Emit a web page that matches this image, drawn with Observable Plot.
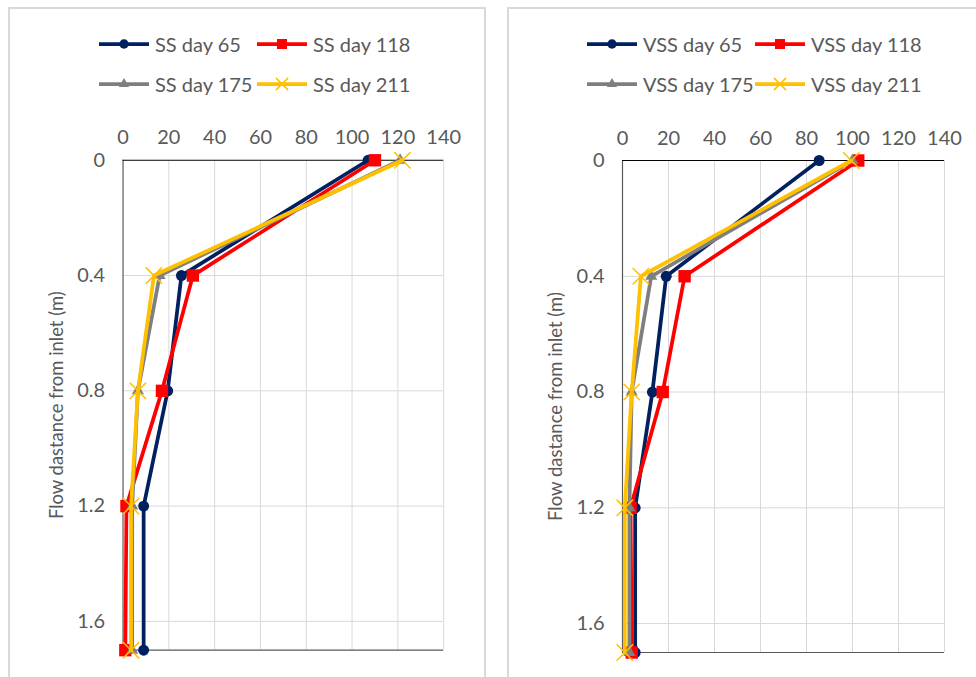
<!DOCTYPE html>
<html>
<head>
<meta charset="utf-8">
<script src="https://cdn.jsdelivr.net/npm/d3@7"></script>
<script src="https://cdn.jsdelivr.net/npm/@observablehq/plot@0.6"></script>
<style>
  html, body { margin: 0; padding: 0; background: #fff; width: 976px; height: 677px; overflow: hidden; }
  body { position: relative; font-family: Lato, "Open Sans", sans-serif; color: #595959; }
  .panel { position: absolute; top: 7px; width: 478px; height: 720px; border: 2px solid #d9d9d9; box-sizing: border-box; background: #fff; }
  .legend { position: absolute; display: grid; row-gap: 14px; font-size: 20px; color: #595959; }
  .item { display: flex; align-items: center; white-space: nowrap; height: 26px; }
  .item svg { margin-right: 6px; flex: none; }
  .chart { position: absolute; }
</style>
</head>
<body>
<div class="panel" id="p1" style="left:8px;"></div>
<div class="panel" id="p2" style="left:507px; width:500px;"></div>
<script>
// ---- data ----
const distances = [0, 0.4, 0.8, 1.2, 1.7];
const days = ["65", "118", "175", "211"];
const ss65  = [107, 25.5, 19.5, 9, 9];
const ss118 = [110, 30.5, 17, 1.5, 1];
const ss175 = [121, 16, 6.5, 4, 4];
const ss211 = [122, 13.5, 6.5, 3.5, 3.5];
const vss65  = [85.5, 19, 13, 5.5, 5.5];
const vss118 = [102.5, 27, 17.5, 3.5, 4];
const vss175 = [100, 12.5, 4, 3, 3];
const vss211 = [99.5, 8, 4, 1, 1];
const xTicks = [0, 20, 40, 60, 80, 100, 120, 140];
const yTicks = [0, 0.4, 0.8, 1.2, 1.6];
const yLabel = "Flow dastance from inlet (m)";

// ---- styles ----
const colors = ["#002060", "#FF0000", "#7F7F7F", "#FFC000"];
const symbols = ["circle", "square", "triangle", "times"];
const sizes = [5.5, 7, 4.5, 7.5];

function tidy(prefix, arrays) {
  return arrays.map((vals, i) => ({
    name: `${prefix} day ${days[i]}`, i,
    rows: vals.map((v, k) => ({v, d: distances[k]}))
  }));
}

function legendSwatch(i) {
  const s = d3.create("svg").attr("width", 50).attr("height", 20);
  s.append("line").attr("x1", 0).attr("x2", 50).attr("y1", 10).attr("y2", 10)
    .attr("stroke", colors[i]).attr("stroke-width", 3.75);
  const sym = [d3.symbolCircle, d3.symbolSquare, d3.symbolTriangle, d3.symbolTimes][i];
  const sz = [70, 100, 45, 100][i];
  const p = s.append("path").attr("d", d3.symbol(sym, sz)()).attr("transform", "translate(25,10)");
  if (i === 3) p.attr("fill", "none").attr("stroke", colors[i]).attr("stroke-width", 1.5);
  else p.attr("fill", colors[i]);
  return s.node();
}

function build(panelId, series, legendLeft, colW) {
  const panel = document.getElementById(panelId);
  const lg = document.createElement("div");
  lg.className = "legend";
  lg.style.left = legendLeft + "px";
  lg.style.top = "22px";
  lg.style.gridTemplateColumns = `${colW}px ${colW}px`;
  series.forEach(s => {
    const it = document.createElement("div");
    it.className = "item";
    it.appendChild(legendSwatch(s.i));
    const t = document.createElement("span");
    t.textContent = s.name;
    it.appendChild(t);
    lg.appendChild(it);
  });
  panel.appendChild(lg);

  const marks = [
    Plot.ruleX([20, 40, 60, 80, 100, 120, 140], {stroke: "#d9d9d9", strokeWidth: 1}),
    Plot.ruleY([0.4, 0.8, 1.2, 1.6], {stroke: "#d9d9d9", strokeWidth: 1}),
    Plot.ruleY([1.7], {stroke: "#595959", strokeWidth: 1.2}),
    Plot.ruleX([0], {stroke: "#595959", strokeWidth: 1.2}),
    Plot.ruleY([0], {stroke: "#000", strokeWidth: 1.2}),
    Plot.axisX({anchor: "top", ticks: xTicks, tickSize: 0, tickPadding: 16, label: null, fontSize: 20, fill: "#595959"}),
    Plot.axisY({anchor: "left", ticks: yTicks, tickSize: 0, tickPadding: 18, label: null, fontSize: 20, fill: "#595959",
      tickFormat: d => d === 0 ? "0" : d3.format(".1f")(d)}),
    Plot.text([yLabel], {frameAnchor: "left", rotate: -90, dx: -66, fontSize: 18.5, fill: "#595959", textAnchor: "middle"})
  ];
  series.forEach(s => {
    marks.push(Plot.line(s.rows, {x: "v", y: "d", stroke: colors[s.i], strokeWidth: 3.75}));
    if (s.i === 3) {
      marks.push(Plot.dot(s.rows, {x: "v", y: "d", symbol: symbols[s.i], r: sizes[s.i], stroke: colors[s.i], strokeWidth: 1.5, fill: "none"}));
    } else {
      marks.push(Plot.dot(s.rows, {x: "v", y: "d", symbol: symbols[s.i], r: sizes[s.i], fill: colors[s.i], stroke: "none"}));
    }
  });

  const chart = Plot.plot({
    width: 476, height: 563,
    marginLeft: 113, marginRight: 41, marginTop: 53, marginBottom: 18,
    x: {domain: [0, 140]},
    y: {domain: [0, 1.7], reverse: true},
    style: {fontFamily: "Lato, 'Open Sans', sans-serif", fontSize: "20px", color: "#595959", background: "transparent", overflow: "visible"},
    marks
  });
  chart.classList.add("chart");
  chart.style.left = "0px";
  chart.style.top = "98px";
  panel.appendChild(chart);
}

build("p1", tidy("SS", [ss65, ss118, ss175, ss211]), 89, 158);
build("p2", tidy("VSS", [vss65, vss118, vss175, vss211]), 78, 168);
</script>
</body>
</html>
